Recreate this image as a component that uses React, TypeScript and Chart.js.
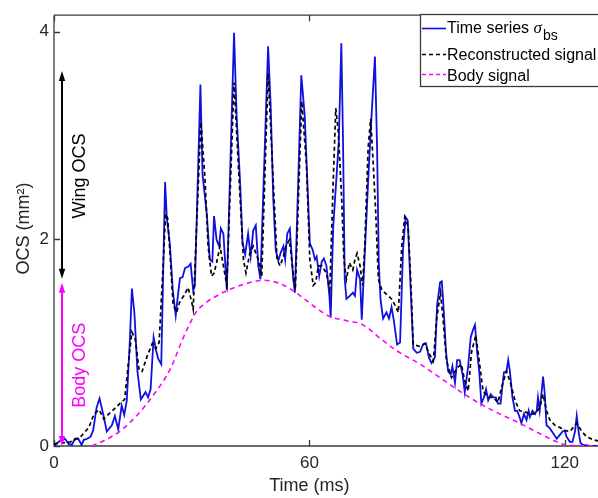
import React, { useEffect, useRef } from 'react';
import { Chart, registerables } from 'chart.js';

Chart.register(...registerables);

// ---- data ----
const X_TICKS = [0, 60, 120];
const Y_TICKS = [0, 2, 4];
const X_MAX = 127.8;
const Y_MAX = 4.16;

const BLUE_T = [0,0.2,1.4,2.6,3.4,4.2,4.9,5.7,6.5,7.0,
  7.8,8.6,9.2,10.0,10.7,11.6,12.4,13.6,14.3,15.1,
  15.9,16.5,17.1,17.8,18.3,18.9,19.6,20.4,21.5,22.1,
  22.7,23.4,24.0,24.5,25.2,26.1,26.5,27.2,27.9,28.6,
  29.1,29.6,30.2,30.8,31.5,32.1,32.7,33.1,34.4,34.9,
  35.9,36.6,37.2,37.6,38.2,38.8,39.2,39.8,40.6,42.3,
  42.9,43.7,44.3,44.9,45.6,46.2,46.8,47.4,48.0,48.5,
  50.3,50.9,51.5,52.1,52.7,53.2,53.9,54.3,54.8,55.4,
  56.2,56.6,58.1,58.9,59.7,60.1,60.8,61.3,61.7,62.3,
  62.9,63.4,64.0,64.7,65.0,65.6,66.4,66.9,67.5,67.9,
  68.3,68.7,69.5,70.2,70.7,71.2,71.9,72.3,73.8,74.6,
  75.4,75.9,76.3,76.7,77.3,78.1,78.7,79.3,79.8,80.6,
  81.3,82.0,82.6,83.1,83.7,84.4,85.2,86.0,86.7,87.4,
  88.1,88.7,89.5,90.0,90.7,91.1,91.4,92.1,92.6,93.2,
  93.6,94.2,94.7,95.3,96.0,96.5,97.3,97.9,98.5,98.9,
  99.4,99.9,100.4,101.0,101.5,102.0,102.6,103.2,103.8,104.3,
  104.9,105.7,106.3,106.7,107.1,107.7,108.3,108.8,109.3,109.8,
  110.4,111.0,111.5,111.8,112.4,113.0,113.4,113.7,114.1,114.9,
  115.3,115.7,116.5,117.3,118.1,118.7,119.5,120.0,120.4,121.2,
  121.8,122.4,122.8,123.3,123.7,124.3,125.9,127.8];
const BLUE_V = [0,0.01,0.05,0.07,0.02,0.01,0.07,0.07,0.01,0.06,
  0.07,0.09,0.15,0.37,0.46,0.30,0.14,0.20,0.29,0.16,
  0.39,0.30,0.44,1.00,1.52,1.28,0.72,0.45,0.52,0.47,
  0.55,1.05,0.92,0.84,0.79,2.55,2.20,1.96,1.51,1.26,
  1.45,1.62,1.63,1.72,1.73,1.76,1.50,1.55,3.49,2.62,
  2.24,1.80,1.78,2.22,1.99,1.93,2.10,2.05,1.51,3.99,
  3.19,2.56,1.96,1.85,2.05,1.83,2.08,2.13,1.74,1.61,
  3.86,3.29,2.40,1.89,1.79,1.86,1.93,1.80,2.05,2.10,
  1.61,1.48,3.58,3.19,2.37,1.96,1.89,1.80,1.83,1.64,
  1.78,1.81,1.74,1.45,1.24,2.12,2.62,2.94,3.89,2.94,
  1.61,1.42,1.45,1.48,1.45,1.70,1.61,1.22,2.56,3.19,
  3.76,2.88,1.77,1.42,1.23,1.29,1.23,1.34,1.22,0.98,
  1.00,1.90,2.21,2.18,1.60,0.94,0.90,0.91,0.98,0.99,
  0.85,0.80,0.86,1.36,1.58,1.59,1.42,0.91,0.72,0.69,
  0.77,0.61,0.83,0.83,0.69,0.52,0.77,1.05,1.13,1.17,
  0.91,0.72,0.41,0.47,0.55,0.44,0.50,0.47,0.47,0.41,
  0.41,0.71,0.72,0.83,0.72,0.47,0.34,0.34,0.29,0.22,
  0.31,0.25,0.34,0.28,0.34,0.31,0.34,0.47,0.34,0.67,
  0.50,0.20,0.17,0.12,0.07,0.10,0.14,0.15,0.09,0.04,
  0.04,0.14,0.29,0.12,0.03,0.01,0,0];

const RECON_T = [0,3.9,6.3,8.2,9.4,10.6,11.7,12.9,14.5,15.7,
  16.6,17.6,18.3,19.1,20.0,20.7,21.9,23.1,23.9,24.7,
  25.7,26.2,26.7,27.2,28.0,28.8,29.6,30.5,31.5,32.3,
  32.7,34.5,35.5,36.2,37.0,37.6,38.2,39.0,39.8,40.6,
  42.3,43.3,44.5,45.1,46.0,46.8,48.0,48.8,50.3,51.5,
  52.4,53.1,53.9,54.5,55.3,56.2,56.7,58.2,59.3,60.1,
  60.9,61.5,62.1,62.9,64.0,64.8,65.6,66.2,66.8,67.6,
  68.1,68.7,69.4,70.2,70.7,71.2,71.9,72.5,73.0,73.8,
  74.4,75.0,75.6,76.2,77.0,77.7,78.5,79.3,80.1,80.9,
  81.7,82.4,83.2,83.8,84.4,86.0,87.1,88.3,89.1,89.9,
  90.8,91.4,92.2,93.4,94.6,95.7,96.5,97.3,98.1,99.1,
  99.9,100.8,102.0,103.2,104.3,105.1,106.3,107.3,108.3,109.4,
  110.6,111.8,113.0,114.1,114.9,115.7,116.5,117.7,118.8,120.0,
  121.2,122.0,122.8,124.0,125.1,126.7,127.8];
const RECON_V = [0.02,0.04,0.09,0.18,0.31,0.35,0.26,0.31,0.37,0.42,
  0.45,0.85,1.10,1.03,0.73,0.72,0.87,0.99,0.94,1.00,
  1.80,2.24,2.20,1.89,1.36,1.29,1.40,1.45,1.53,1.40,
  1.32,3.13,2.56,1.93,1.64,1.67,1.77,1.93,1.74,1.55,
  3.51,2.72,1.80,1.67,1.86,1.93,1.80,1.64,3.60,2.56,
  1.80,1.74,1.83,1.93,1.99,1.67,1.51,3.33,2.72,1.80,
  1.55,1.58,1.74,1.74,1.67,1.51,2.56,3.26,3.03,2.37,
  1.80,1.61,1.77,1.70,1.80,1.86,1.74,1.55,1.93,2.88,
  3.16,2.72,2.24,1.61,1.51,1.48,1.45,1.42,1.36,1.29,
  1.93,2.21,2.12,1.61,0.98,0.96,0.99,0.88,0.82,1.23,
  1.48,1.23,0.82,0.66,0.75,0.79,0.63,0.53,0.91,1.07,
  0.82,0.53,0.47,0.47,0.42,0.56,0.72,0.60,0.44,0.34,
  0.33,0.31,0.31,0.37,0.50,0.34,0.25,0.20,0.18,0.15,
  0.14,0.18,0.22,0.14,0.09,0.06,0.05];

const BODY_T = [8.9,11.7,15.7,19.6,23.5,27.4,30.1,31.9,33.5,
  35.9,37.4,40.6,45.3,49.2,52.3,55.4,58.5,61.7,64.8,
  68.7,72.6,76.6,80.5,86.0,90.7,95.3,100.0,104.7,109.4,
  114.1,118.1,120.4,127.8];
const BODY_V = [0,0.05,0.15,0.30,0.50,0.75,1.02,1.18,1.30,
  1.39,1.43,1.50,1.57,1.60,1.58,1.52,1.43,1.33,1.25,
  1.21,1.17,1.04,0.92,0.79,0.66,0.53,0.41,0.31,0.22,
  0.12,0.04,0.01,0];

// annotation arrows: [time, top value, bottom value]
const WING_ARROW = [1.8, 3.62, 1.615];
const BODY_ARROW = [1.8, 1.577, 0.0];

const LEGEND_LABELS = ['Time series ', 'Reconstructed signal', 'Body signal'];
const X_TITLE = 'Time (ms)';
const Y_TITLE = 'OCS (mm\u00B2)';
const WING_LABEL = 'Wing OCS';
const BODY_LABEL = 'Body OCS';

const BLUE = '#1010e0';
const MAGENTA = '#ff00ff';
const BLACK = '#000000';
const AXIS = '#3a3a3a';
const FONT = "'Liberation Sans', Arial, sans-serif";

const pts = (t: number[], v: number[]) => t.map((x, i) => ({ x, y: v[i] }));

function arrow(ctx: CanvasRenderingContext2D, x: number, yTop: number, yBot: number, color: string) {
  const h = 10, w = 3.2;
  ctx.save();
  ctx.strokeStyle = color;
  ctx.fillStyle = color;
  ctx.lineWidth = 2;
  ctx.beginPath();
  ctx.moveTo(x, yTop + h - 1);
  ctx.lineTo(x, yBot - h + 1);
  ctx.stroke();
  ctx.beginPath();
  ctx.moveTo(x, yTop);
  ctx.lineTo(x - w, yTop + h);
  ctx.lineTo(x + w, yTop + h);
  ctx.closePath();
  ctx.fill();
  ctx.beginPath();
  ctx.moveTo(x, yBot);
  ctx.lineTo(x - w, yBot - h);
  ctx.lineTo(x + w, yBot - h);
  ctx.closePath();
  ctx.fill();
  ctx.restore();
}

const decor = {
  id: 'decor',
  beforeDatasetsDraw(chart: any) {
    const { ctx, chartArea: a, scales } = chart;
    const xs = scales.x, ys = scales.y;
    ctx.save();
    ctx.strokeStyle = AXIS;
    ctx.lineWidth = 1.3;
    ctx.beginPath();
    ctx.moveTo(a.left, a.top);
    ctx.lineTo(a.left, a.bottom);
    ctx.lineTo(a.right, a.bottom);
    ctx.moveTo(a.left, a.top);
    ctx.lineTo(a.right, a.top);
    for (const v of X_TICKS) {
      const px = Math.round(xs.getPixelForValue(v)) + 0.5;
      ctx.moveTo(px, a.bottom);
      ctx.lineTo(px, a.bottom - 6);
      ctx.moveTo(px, a.top);
      ctx.lineTo(px, a.top + 6);
    }
    for (const v of Y_TICKS) {
      const py = Math.round(ys.getPixelForValue(v)) + 0.5;
      ctx.moveTo(a.left, py);
      ctx.lineTo(a.left + 6, py);
    }
    ctx.stroke();
    ctx.restore();
  },
  afterDatasetsDraw(chart: any) {
    const { ctx, chartArea: a, scales } = chart;
    const xs = scales.x, ys = scales.y;

    // arrows + labels
    const drawAnn = (spec: number[], color: string, label: string) => {
      const x = Math.round(xs.getPixelForValue(spec[0]));
      const yT = ys.getPixelForValue(spec[1]);
      const yB = ys.getPixelForValue(spec[2]);
      arrow(ctx, x, yT, yB, color);
      ctx.save();
      ctx.translate(x + 18, (yT + yB) / 2 + 1);
      ctx.rotate(-Math.PI / 2);
      ctx.fillStyle = color;
      ctx.font = `18px ${FONT}`;
      ctx.textAlign = 'center';
      ctx.textBaseline = 'middle';
      ctx.fillText(label, 0, 0);
      ctx.restore();
    };
    drawAnn(WING_ARROW, BLACK, WING_LABEL);
    drawAnn(BODY_ARROW, MAGENTA, BODY_LABEL);

    // legend
    ctx.save();
    const lx = 420.5, ly = 14.5;
    ctx.fillStyle = '#ffffff';
    ctx.fillRect(lx, ly, 300, 72);
    ctx.strokeStyle = AXIS;
    ctx.lineWidth = 1.3;
    ctx.strokeRect(lx, ly, 300, 72);
    const rows = [
      { y: 28.5, base: 33, color: BLUE, dash: [] as number[] },
      { y: 54.5, base: 60, color: BLACK, dash: [4, 3] },
      { y: 74.5, base: 80.5, color: MAGENTA, dash: [4, 3] },
    ];
    rows.forEach((r, i) => {
      ctx.beginPath();
      ctx.setLineDash(r.dash);
      ctx.strokeStyle = r.color;
      ctx.lineWidth = 1.6;
      ctx.moveTo(422, r.y);
      ctx.lineTo(446, r.y);
      ctx.stroke();
      ctx.setLineDash([]);
      ctx.fillStyle = '#000';
      ctx.font = `16px ${FONT}`;
      ctx.textAlign = 'left';
      ctx.textBaseline = 'alphabetic';
      ctx.fillText(LEGEND_LABELS[i], 447, r.base);
      if (i === 0) {
        const w = ctx.measureText(LEGEND_LABELS[0]).width;
        ctx.font = `italic 17px 'Liberation Serif', 'DejaVu Serif', serif`;
        ctx.fillText('\u03C3', 447 + w, r.base);
        const w2 = ctx.measureText('\u03C3').width;
        ctx.font = `14px ${FONT}`;
        ctx.fillText('bs', 447 + w + w2 + 1, r.base + 7);
      }
    });
    ctx.restore();

    // axis titles
    ctx.save();
    ctx.fillStyle = '#262626';
    ctx.font = `18px ${FONT}`;
    ctx.textAlign = 'center';
    ctx.textBaseline = 'middle';
    ctx.fillText(X_TITLE, xs.getPixelForValue(60), 486);
    ctx.translate(24, (a.top + a.bottom) / 2 - 2);
    ctx.rotate(-Math.PI / 2);
    ctx.fillText(Y_TITLE, 0, 0);
    ctx.restore();
  },
};

export default function App() {
  const ref = useRef<HTMLCanvasElement>(null);
  useEffect(() => {
    const canvas = ref.current!;
    const tickFont = { family: FONT, size: 17 };
    const chart = new Chart(canvas, {
      type: 'line',
      data: {
        datasets: [
          {
            label: 'Body signal',
            data: pts(BODY_T, BODY_V),
            borderColor: MAGENTA,
            borderWidth: 1.6,
            borderDash: [5, 4],
            pointRadius: 0,
            cubicInterpolationMode: 'monotone',
            fill: false,
            order: 1,
          },
          {
            label: 'Reconstructed signal',
            data: pts(RECON_T, RECON_V),
            borderColor: BLACK,
            borderWidth: 1.7,
            borderDash: [4, 3],
            pointRadius: 0,
            tension: 0,
            fill: false,
            order: 2,
          },
          {
            label: 'Time series',
            data: pts(BLUE_T, BLUE_V),
            borderColor: BLUE,
            borderWidth: 1.8,
            pointRadius: 0,
            tension: 0,
            fill: false,
            order: 3,
          },
        ],
      },
      options: {
        responsive: false,
        animation: false,
        events: [],
        layout: { padding: { top: 8, left: 0, right: 0, bottom: 0 } },
        plugins: { legend: { display: false }, tooltip: { enabled: false } },
        scales: {
          x: {
            type: 'linear',
            min: 0,
            max: X_MAX,
            grid: { display: false, drawTicks: false },
            border: { display: false },
            ticks: { padding: 7, color: '#262626', font: tickFont, maxRotation: 0, autoSkip: false },
            afterBuildTicks: (s: any) => { s.ticks = X_TICKS.map((v) => ({ value: v })); },
            afterFit: (s: any) => { s.height = 52; },
          },
          y: {
            type: 'linear',
            min: 0,
            max: Y_MAX,
            grid: { display: false, drawTicks: false },
            border: { display: false },
            ticks: { padding: 5, color: '#262626', font: tickFont, autoSkip: false },
            afterBuildTicks: (s: any) => { s.ticks = Y_TICKS.map((v) => ({ value: v })); },
            afterFit: (s: any) => { s.width = 54; },
          },
        },
      } as any,
      plugins: [decor],
    });
    return () => chart.destroy();
  }, []);
  return (
    <div style={{ position: 'absolute', left: 0, top: 0, width: 598, height: 498, background: '#fff' }}>
      <canvas ref={ref} width={598} height={498} style={{ display: 'block' }} />
    </div>
  );
}
